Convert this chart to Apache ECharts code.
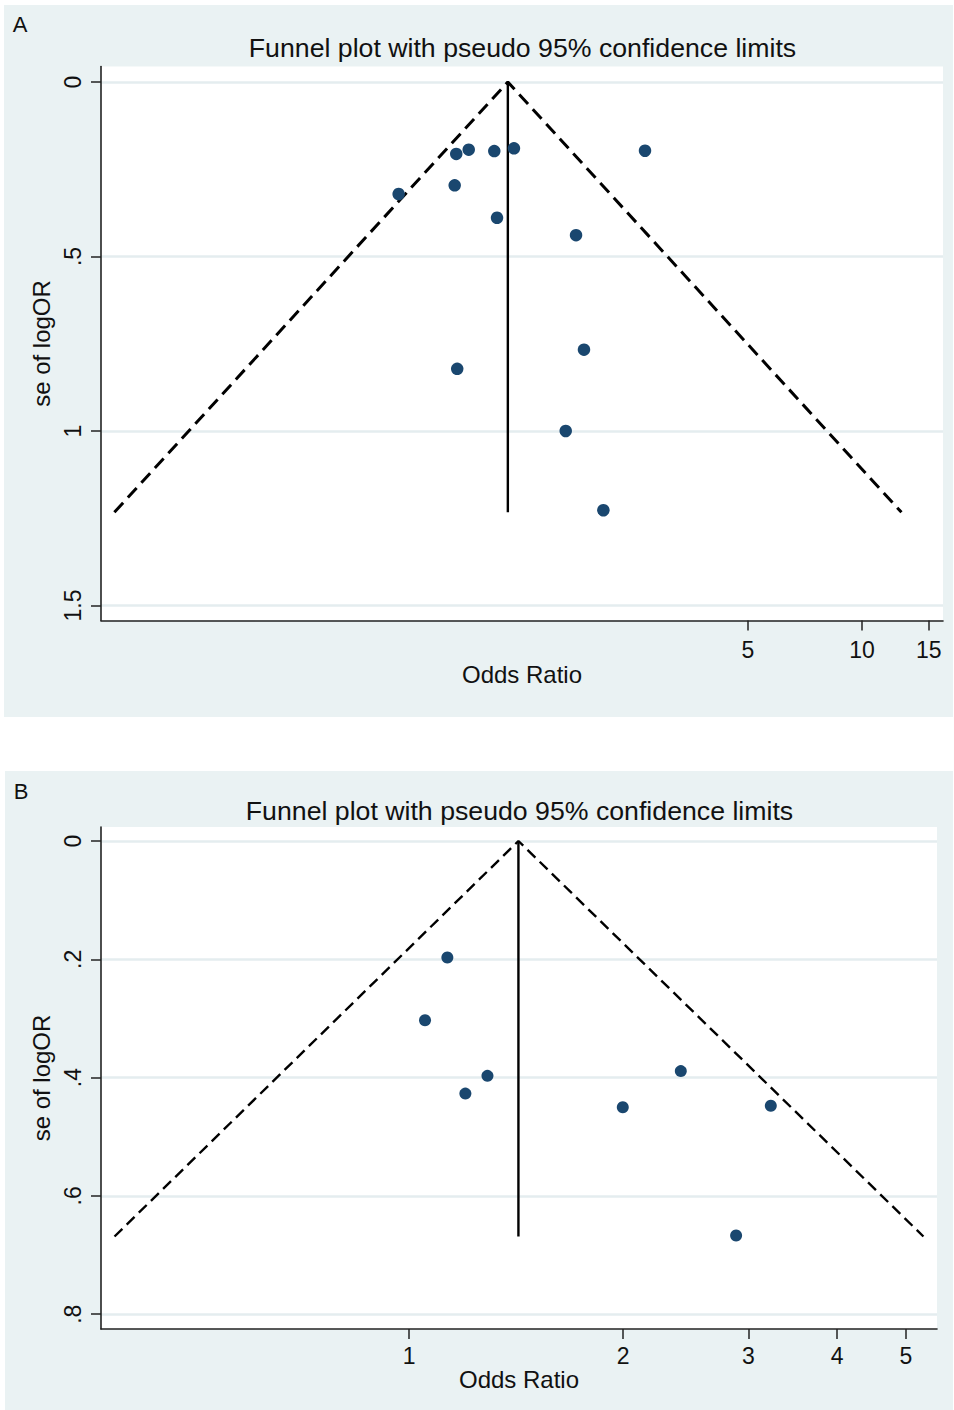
<!DOCTYPE html>
<html><head><meta charset="utf-8">
<script src="https://cdn.jsdelivr.net/npm/echarts@6/dist/echarts.min.js"></script>
<style>html,body{margin:0;padding:0;background:#fff}#c{width:954px;height:1410px}</style>
</head><body><div id="c"></div>
<script>
// ---- text ----
const panelLabels = ['A', 'B'];
const titleText = 'Funnel plot with pseudo 95% confidence limits';
const xName = 'Odds Ratio';
const yName = 'se of logOR';

// ---- panel A data (odds ratio, standard error of logOR) ----
const orA = [0.850, 0.917, 1.071, 1.207, 2.676, 0.842, 0.599, 1.089, 1.760, 1.847, 0.855, 1.653, 2.078];
const seA = [0.206, 0.194, 0.198, 0.190, 0.197, 0.296, 0.321, 0.389, 0.439, 0.767, 0.822, 1.000, 1.227];
const pooledA = 1.163;
const seMaxA = 1.233;
const lowerA = 0.1065;
const upperA = 12.71;
const xTicksA = [5, 10, 15];
const yTicksA = [0, 0.5, 1, 1.5];

// ---- panel B data ----
const orB = [1.132, 1.053, 1.200, 1.289, 2.411, 1.998, 3.227, 2.884];
const seB = [0.197, 0.303, 0.427, 0.397, 0.389, 0.450, 0.4475, 0.667];
const pooledB = 1.425;
const seMaxB = 0.6686;
const lowerB = 0.3852;
const upperB = 5.290;
const xTicksB = [1, 2, 3, 4, 5];
const yTicksB = [0, 0.2, 0.4, 0.6, 0.8];

const FONT = '"Liberation Sans", Arial, Helvetica, sans-serif';
const BG = '#EAF2F3';
const GRIDC = '#E4EDEF';
const NAVY = '#1A476F';
const TXT = '#111';

const stataFmt = v => (v === 0 ? '0' : String(+v.toFixed(4)).replace(/^0\./, '.'));

function makeAxes(idx, cfg) {
  const xAxis = {
    gridIndex: idx, type: 'log', logBase: 10,
    min: cfg.xmin, max: cfg.xmax,
    name: xName, nameLocation: 'middle', nameGap: cfg.xNameGap,
    nameTextStyle: { fontFamily: FONT, fontSize: 24, color: TXT },
    axisLine: { show: true, onZero: false, lineStyle: { color: '#222', width: 1.6 } },
    axisTick: { show: true, customValues: cfg.xTicks, length: 10, inside: false, lineStyle: { color: '#222', width: 1.5 } },
    axisLabel: { show: true, customValues: cfg.xTicks, margin: cfg.xLabelMargin, fontFamily: FONT, fontSize: 23, color: TXT,
      formatter: v => String(Math.round(v)) },
    splitLine: { show: false }, minorTick: { show: false }, minorSplitLine: { show: false }
  };
  const yAxis = {
    gridIndex: idx, type: 'value', inverse: true,
    min: cfg.ymin, max: cfg.ymax,
    name: yName, nameLocation: 'middle', nameGap: 42, nameRotate: 90,
    nameTextStyle: { fontFamily: FONT, fontSize: 24, color: TXT },
    axisLine: { show: true, onZero: false, lineStyle: { color: '#222', width: 1.6 } },
    axisTick: { show: true, customValues: cfg.yTicks, length: 10, inside: false, lineStyle: { color: '#222', width: 1.5 } },
    axisLabel: { show: true, customValues: cfg.yTicks, rotate: 90, margin: 17, fontFamily: FONT, fontSize: 23, color: TXT,
      formatter: stataFmt },
    splitLine: { show: true, lineStyle: { color: GRIDC, width: 2.5 } }
  };
  return { xAxis, yAxis };
}

const axA = makeAxes(0, { xmin: 0.09819, xmax: 16.36, ymin: -0.0444, ymax: 1.543, xTicks: xTicksA, yTicks: yTicksA, xNameGap: 40, xLabelMargin: 18 });
const axB = makeAxes(1, { xmin: 0.3687, xmax: 5.528, ymin: -0.02367, ymax: 0.8250, xTicks: xTicksB, yTicks: yTicksB, xNameGap: 36, xLabelMargin: 15 });

function funnelSeries(idx, pooled, seMax, lower, upper, dashW, dash) {
  return [
    { type: 'line', xAxisIndex: idx, yAxisIndex: idx, z: 2, silent: true, symbol: 'none', animation: false,
      data: [[lower, seMax], [pooled, 0], [upper, seMax]],
      lineStyle: { color: '#000', width: dashW, type: dash } },
    { type: 'line', xAxisIndex: idx, yAxisIndex: idx, z: 2, silent: true, symbol: 'none', animation: false,
      data: [[pooled, 0], [pooled, seMax]],
      lineStyle: { color: '#000', width: 2.4, type: 'solid' } }
  ];
}

function scatterSeries(idx, ors, ses, size) {
  return { type: 'scatter', xAxisIndex: idx, yAxisIndex: idx, z: 4, symbol: 'circle', symbolSize: size, animation: false,
    itemStyle: { color: NAVY, opacity: 1 },
    data: ors.map((o, i) => [o, ses[i]]) };
}

const chart = echarts.init(document.getElementById('c'), null, { renderer: 'svg', width: 954, height: 1410 });
chart.setOption({
  animation: false,
  backgroundColor: '#fff',
  grid: [
    { left: 101, top: 66.5, width: 842, height: 554, show: true, backgroundColor: '#fff', borderWidth: 0, containLabel: false },
    { left: 101, top: 827, width: 836, height: 502, show: true, backgroundColor: '#fff', borderWidth: 0, containLabel: false }
  ],
  xAxis: [axA.xAxis, axB.xAxis],
  yAxis: [axA.yAxis, axB.yAxis],
  graphic: [
    { type: 'rect', z: -10, silent: true, shape: { x: 4, y: 5, width: 949, height: 712 }, style: { fill: BG } },
    { type: 'rect', z: -10, silent: true, shape: { x: 5, y: 771, width: 948, height: 639 }, style: { fill: BG } },
    { type: 'text', z: 10, x: 20, y: 24.5, style: { text: panelLabels[0], font: '22px ' + FONT, fill: TXT, align: 'center', verticalAlign: 'middle' } },
    { type: 'text', z: 10, x: 522.5, y: 47.5, style: { text: titleText, font: '26.7px ' + FONT, fill: TXT, align: 'center', verticalAlign: 'middle' } },
    { type: 'text', z: 10, x: 21, y: 791, style: { text: panelLabels[1], font: '22px ' + FONT, fill: TXT, align: 'center', verticalAlign: 'middle' } },
    { type: 'text', z: 10, x: 519.5, y: 811, style: { text: titleText, font: '26.7px ' + FONT, fill: TXT, align: 'center', verticalAlign: 'middle' } }
  ],
  series: [
    ...funnelSeries(0, pooledA, seMaxA, lowerA, upperA, 3, [13, 7]),
    scatterSeries(0, orA, seA, 12.5),
    ...funnelSeries(1, pooledB, seMaxB, lowerB, upperB, 2.4, [11, 6]),
    scatterSeries(1, orB, seB, 12)
  ]
});
</script></body></html>
